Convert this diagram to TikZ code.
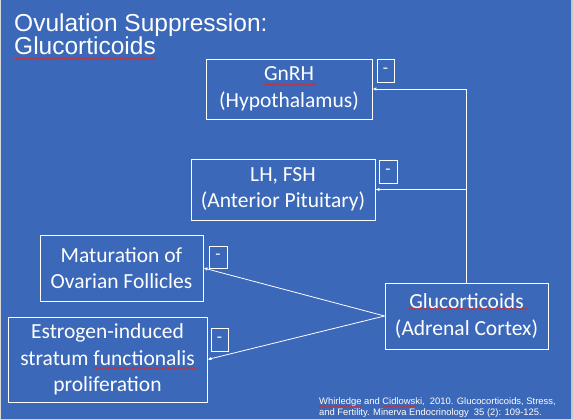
\documentclass[tikz,border=0pt]{standalone}
\usepackage{fontspec}
\setmainfont{Carlito}
\newfontfamily\arialfont{Liberation Sans}
\usetikzlibrary{arrows.meta,decorations.pathmorphing}
\definecolor{slideblue}{RGB}{59,104,184}
\definecolor{spellred}{RGB}{210,45,45}
\tikzset{
  box/.style={draw=white, line width=0.9pt, text=white, align=center,
    font=\fontsize{21.5}{26.5}\selectfont, inner sep=0pt},
  minusbox/.style={draw=white, line width=0.9pt, text=white,
    font=\fontsize{17}{17}\selectfont, inner sep=0pt},
  link/.style={white, line width=0.8pt, -{Latex[length=4pt,width=3.5pt]}},
  spellmark/.style={spellred, line width=0.7pt,
    decorate, decoration={snake, segment length=3pt, amplitude=0.7pt}},
}
\begin{document}
\begin{tikzpicture}[x=1pt,y=-1pt]
  % slide background
  \fill[slideblue] (0,0) rectangle (573,419);
  \useasboundingbox (0,0) rectangle (573,419);
  \fill[gray!45] (571,0) rectangle (573,419);
  \fill[gray!30] (0,0) rectangle (1,419);

  % title (base anchor sits on the last line)
  \node[anchor=base west, font=\arialfont\fontsize{24.5}{23.5}\selectfont,
        text=white, align=left, inner sep=0pt] (title) at (14,55)
        {Ovulation Suppression:\\Glucorticoids};

  % boxes
  \node[box, minimum width=166pt, minimum height=60pt] (gnrh) at (289,89)
        {GnRH\\(Hypothalamus)};
  \node[box, minimum width=184pt, minimum height=61pt] (lhfsh) at (283,189.5)
        {LH, FSH\\(Anterior Pituitary)};
  \node[box, minimum width=163pt, minimum height=66pt] (matur) at (121.5,268)
        {Maturation of\\Ovarian Follicles};
  \node[box, minimum width=199pt, minimum height=85pt] (estro) at (107.5,359.5)
        {Estrogen-induced\\stratum functionalis\\proliferation};
  \node[box, minimum width=163pt, minimum height=66pt] (gluco) at (466.5,316)
        {Glucorticoids\\(Adrenal Cortex)};

  % inhibition marks
  \node[minusbox, minimum width=17pt, minimum height=23pt] (m1) at (385.5,70.5) {-};
  \node[minusbox, minimum width=18pt, minimum height=23pt] (m2) at (388,171.5) {-};
  \node[minusbox, minimum width=18pt, minimum height=22pt] (m3) at (218,257) {-};
  \node[minusbox, minimum width=17pt, minimum height=23pt] (m4) at (219.5,339.5) {-};

  % connectors
  \draw[link] (gluco.north) |- (gnrh.east);
  \draw[link] (gluco.north |- lhfsh.east) -- (lhfsh.east);
  \draw[link] (gluco.west) -- (matur.east);
  \draw[link] (gluco.west) -- (estro.east);

  % reference
  \node[anchor=base west, align=left, font=\arialfont\fontsize{9.4}{11.5}\selectfont,
        text=white, inner sep=0pt] (cite) at (319,416)
        {Whirledge and Cidlowski,\ \ 2010. Glucocorticoids, Stress,\\
         and Fertility. Minerva Endocrinology\ \ 35 (2): 109-125.};

  % spell-check underlines
  \draw[spellmark] (14,58.5) -- (156,58.5);
  \draw[spellmark] (263,84.5) -- (316,84.5);
  \draw[spellmark] (408,309) -- (528,309);
  \draw[spellmark] (94,368) -- (197,368);
  \draw[spellmark, line width=0.5pt, decoration={snake, segment length=2.5pt, amplitude=0.5pt}] (319,406.5) -- (362,406.5);
  \draw[spellmark, line width=0.5pt, decoration={snake, segment length=2.5pt, amplitude=0.5pt}] (382,406.5) -- (415,406.5);
\end{tikzpicture}
\end{document}
